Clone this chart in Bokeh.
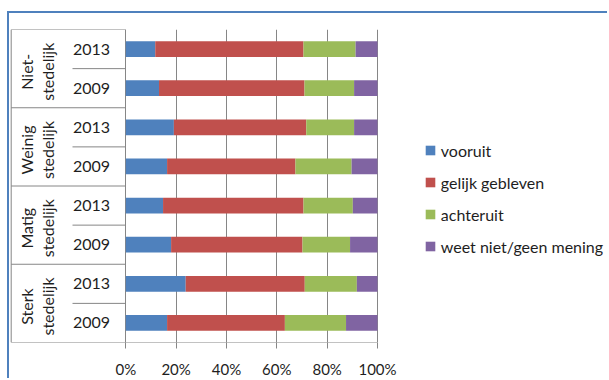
import math
from bokeh.plotting import figure
from bokeh.models import FactorRange, Range1d, Legend, LegendItem, ColumnDataSource
from bokeh.core.properties import value
from bokeh.embed import file_html
from bokeh.resources import INLINE

# ---- data (read top-to-bottom as in the picture) ----
groups = ["Niet-stedelijk", "Weinig stedelijk", "Matig stedelijk", "Sterk stedelijk"]
group_line1 = ["Niet-", "Weinig", "Matig", "Sterk"]
group_line2 = ["stedelijk", "stedelijk", "stedelijk", "stedelijk"]
years = ["2013", "2009"]
series = ["vooruit", "gelijk gebleven", "achteruit", "weet niet/geen mening"]
colors = ["#4f81bd", "#c0504d", "#9bbb59", "#8064a2"]
vooruit = [11.7, 13.2, 19.1, 16.4, 14.8, 18.0, 23.8, 16.4]
gelijk = [58.9, 57.8, 52.6, 51.0, 55.8, 52.2, 47.3, 46.8]
achteruit = [20.7, 19.7, 19.0, 22.3, 19.6, 18.9, 20.7, 24.3]
weet_niet = [8.7, 9.3, 9.3, 10.3, 9.8, 10.9, 8.2, 12.5]
x_ticks = [0, 20, 40, 60, 80, 100]
x_tick_labels = ["0%", "20%", "40%", "60%", "80%", "100%"]

# ---- layout constants ----
FONT = "Lato"
TXT = "#1e1e1e"
GRID = "#868686"
FRAME_LEFT = 9        # page x of the frame's left edge
PX = 2.517            # pixels per percent
X0_PX = 125.3 - FRAME_LEFT   # pixel offset of 0% from frame left
W, H = 600, 367
x_start = -X0_PX / PX
x_end = x_start + W / PX

def px(page_x):
    return (page_x - FRAME_LEFT - X0_PX) / PX

cats = [(g, y) for g in groups for y in years]
factors = cats[::-1]

source = ColumnDataSource(dict(cat=cats, s0=vooruit, s1=gelijk, s2=achteruit, s3=weet_niet))

p = figure(width=W, height=H,
           x_range=Range1d(x_start, x_end),
           y_range=FactorRange(factors=factors, range_padding=0, factor_padding=0,
                               group_padding=0, subgroup_padding=0),
           output_backend="svg", toolbar_location=None,
           x_axis_location="below", y_axis_location=None,
           min_border_left=0, min_border_right=0, min_border_top=16, min_border_bottom=36)
p.outline_line_color = None
p.background_fill_color = "white"
p.border_fill_color = "white"
p.styles = {"margin-top": "11px", "margin-left": "7px",
            "border-top": "2px solid #4f81bd", "border-left": "2px solid #4f81bd"}

renderers = p.hbar_stack(["s0", "s1", "s2", "s3"], y="cat", height=0.4, color=colors,
                         line_color=None, source=source)

# category table lines
table_left = px(10.7)
year_sep_left = px(72)
tops = [(g, "2013", 0.5) for g in groups]
p.segment(x0=[table_left] * len(tops), y0=tops, x1=[0] * len(tops), y1=tops,
          line_color=GRID, line_width=1)
mids = [(g, "2013", -0.5) for g in groups]
p.segment(x0=[year_sep_left] * len(mids), y0=mids, x1=[0] * len(mids), y1=mids,
          line_color=GRID, line_width=1)
bottom = [(groups[-1], "2009", -0.5)]
p.segment(x0=[table_left], y0=bottom, x1=[100], y1=bottom, line_color=GRID, line_width=1)
p.segment(x0=[table_left], y0=bottom, x1=[table_left], y1=[tops[0]], line_color=GRID, line_width=1)

# year labels
p.text(x=[px(91)] * len(cats), y=cats, text=[c[1] for c in cats],
       text_align="center", text_baseline="middle", text_font=value(FONT),
       text_font_size="16px", text_color=TXT)
# group labels (rotated, two lines)
gy = [(g, -0.08) for g in groups]
p.text(x=[px(25.5)] * len(groups), y=gy, text=group_line1, angle=math.pi / 2,
       text_align="center", text_baseline="middle", text_font=value(FONT),
       text_font_size="16px", text_color=TXT)
p.text(x=[px(47)] * len(groups), y=gy, text=group_line2, angle=math.pi / 2,
       text_align="center", text_baseline="middle", text_font=value(FONT),
       text_font_size="16px", text_color=TXT)

# axis
p.xaxis.ticker = x_ticks
p.xaxis.major_label_overrides = {t: l for t, l in zip(x_ticks, x_tick_labels)}
p.xaxis.axis_line_color = None
p.xaxis.major_tick_line_color = GRID
p.xaxis.major_tick_out = 6
p.xaxis.major_tick_in = 0
p.xaxis.minor_tick_line_color = None
p.xaxis.major_label_standoff = 11
p.xaxis.major_label_text_font = FONT
p.xaxis.major_label_text_font_size = "15px"
p.xaxis.major_label_text_color = TXT
p.xgrid.grid_line_color = GRID
p.ygrid.grid_line_color = None

legend = Legend(items=[LegendItem(label=s, renderers=[r]) for s, r in zip(series, renderers)],
                location=(414.8, 86), padding=0, spacing=12, glyph_width=12, glyph_height=12,
                label_height=20, label_standoff=5, label_text_font=FONT,
                label_text_font_size="16px", label_text_color=TXT,
                border_line_color=None, background_fill_alpha=0)
p.add_layout(legend)

open("out.html", "w").write(file_html(p, INLINE))
